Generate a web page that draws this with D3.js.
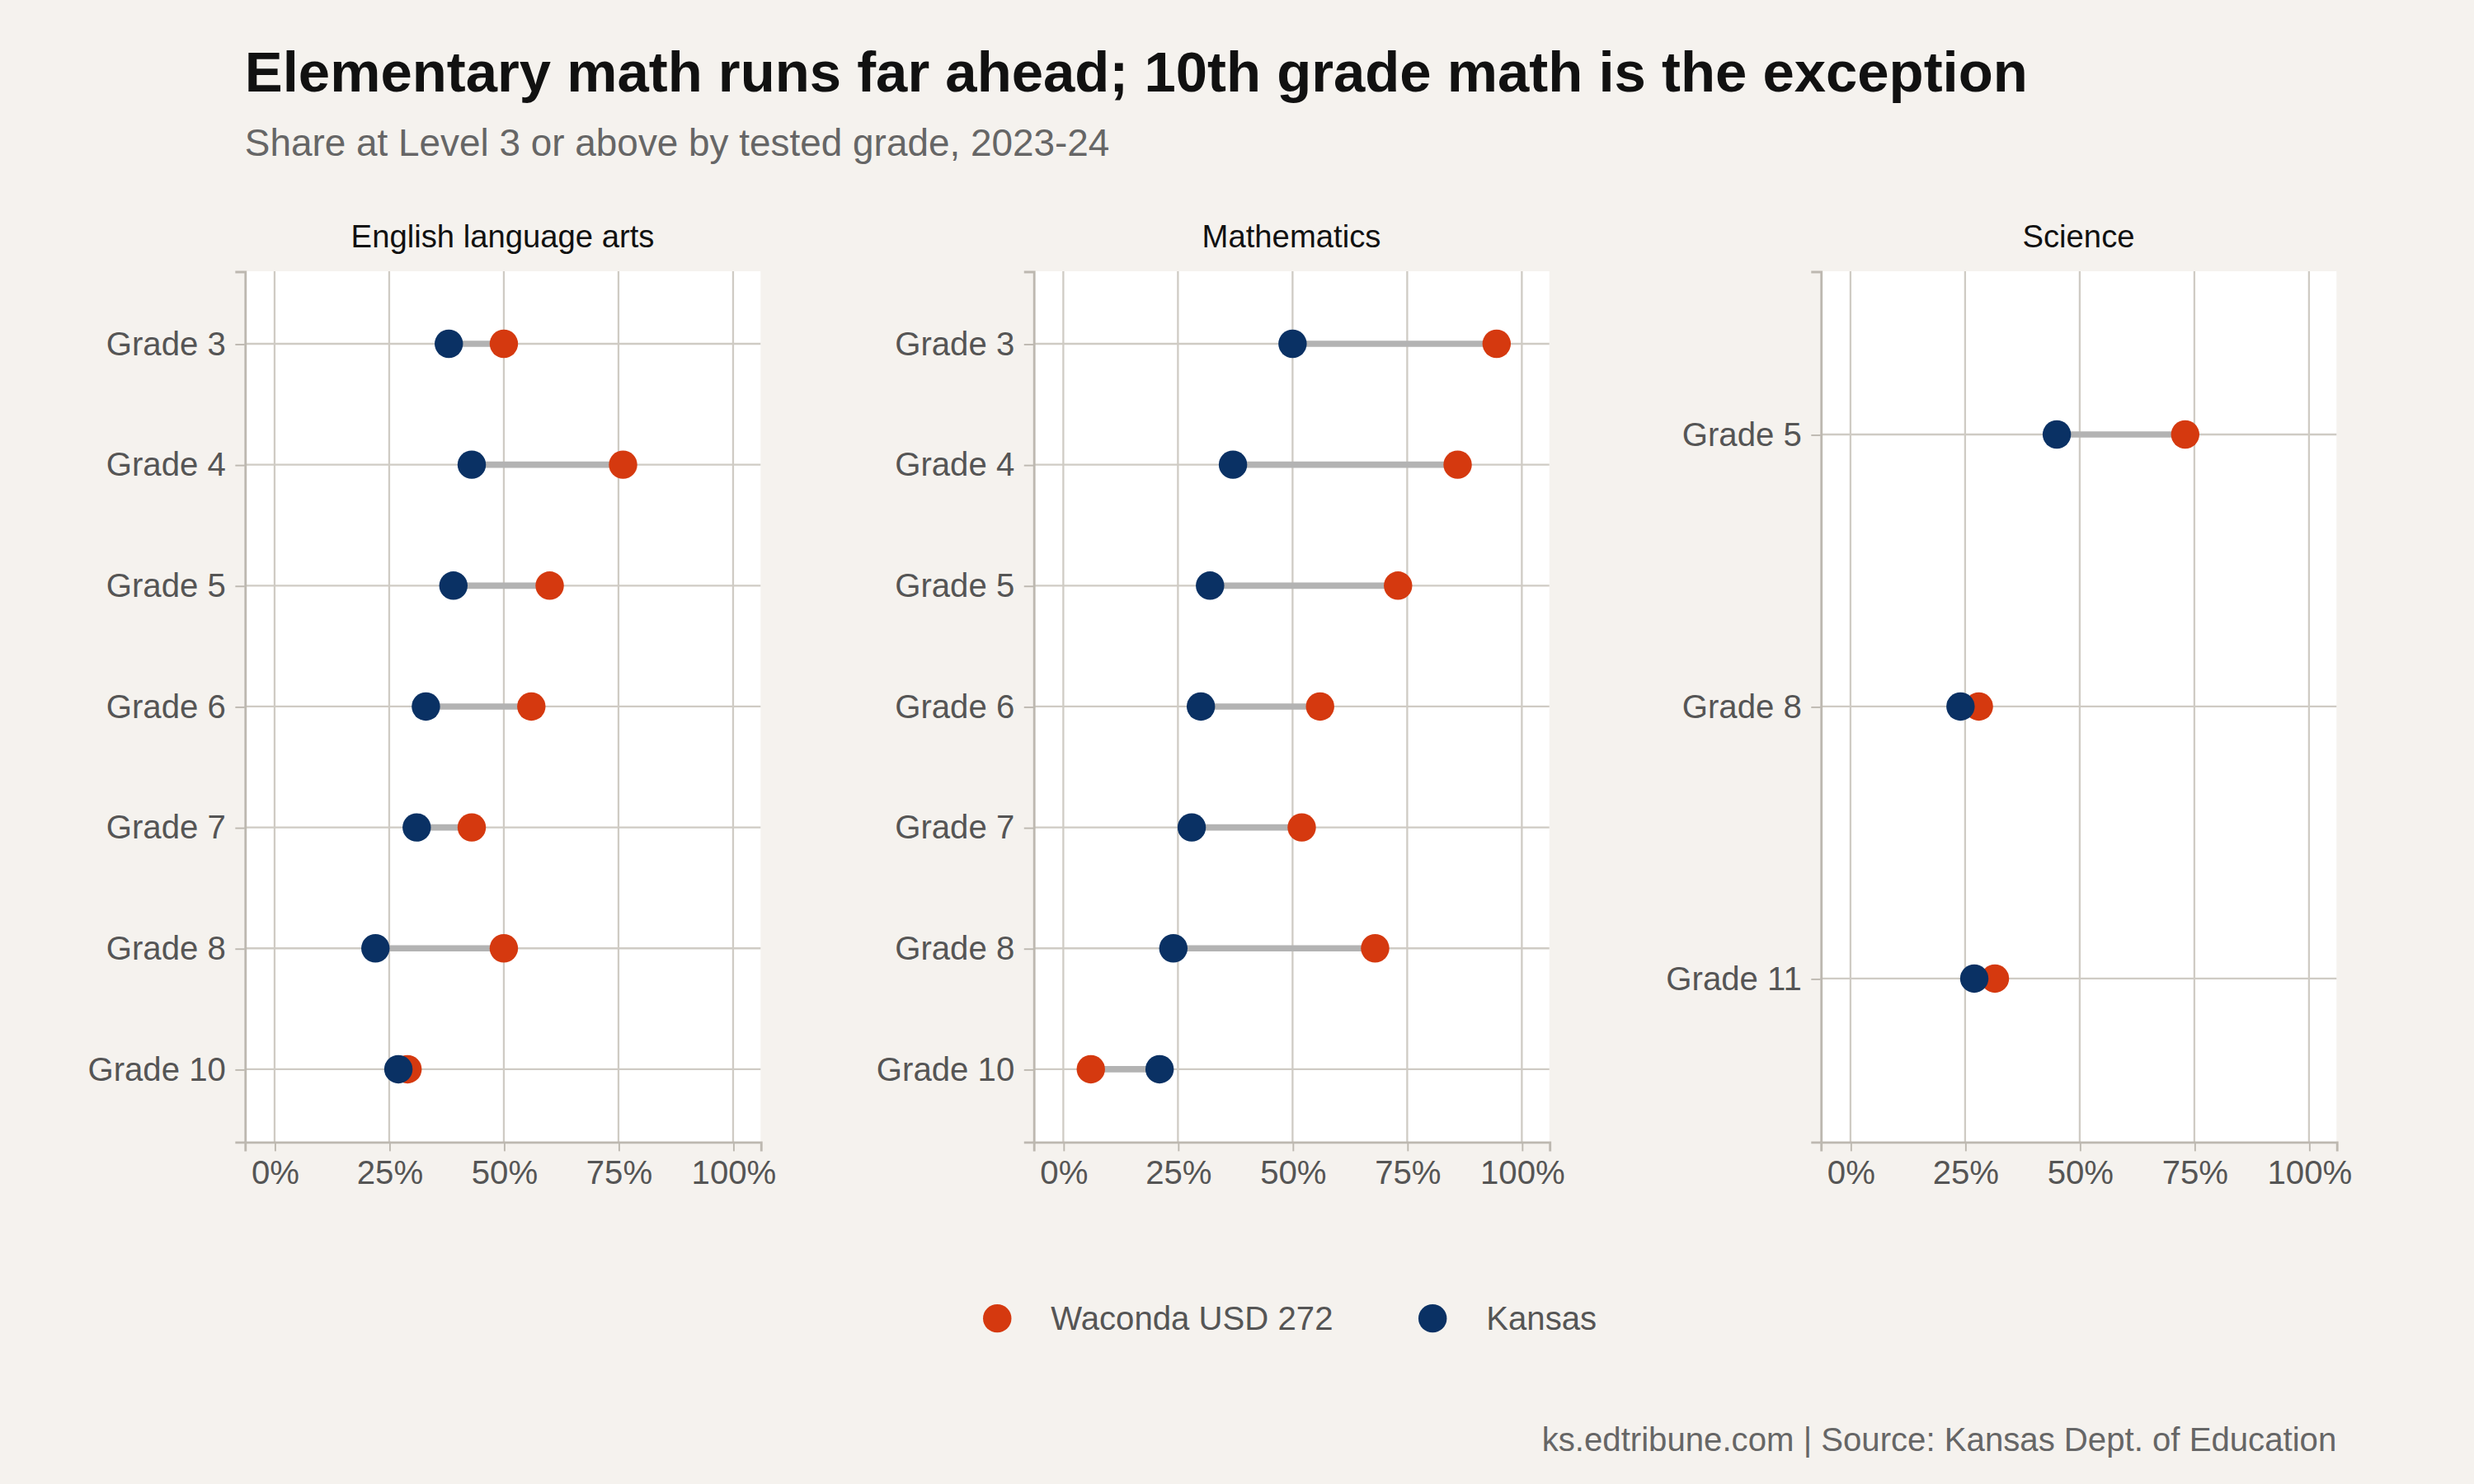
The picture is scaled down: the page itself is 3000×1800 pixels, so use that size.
<!DOCTYPE html>
<html><head><meta charset="utf-8">
<script src="https://cdn.jsdelivr.net/npm/d3@7"></script>
<style>body{margin:0;background:#f5f2ee}text{font-family:"Liberation Sans",Arial,sans-serif}</style>
</head><body><div id="chart"></div>
<script>
// data
const subjects = ['English language arts', 'Mathematics', 'Science'];
const elaGrades = ['Grade 3','Grade 4','Grade 5','Grade 6','Grade 7','Grade 8','Grade 10'];
const elaWaconda = [0.50, 0.76, 0.60, 0.56, 0.43, 0.50, 0.29];
const elaKansas  = [0.38, 0.43, 0.39, 0.33, 0.31, 0.22, 0.27];
const mathGrades = ['Grade 3','Grade 4','Grade 5','Grade 6','Grade 7','Grade 8','Grade 10'];
const mathWaconda = [0.945, 0.86, 0.73, 0.56, 0.52, 0.68, 0.06];
const mathKansas  = [0.50, 0.37, 0.32, 0.30, 0.28, 0.24, 0.21];
const sciGrades = ['Grade 5','Grade 8','Grade 11'];
const sciWaconda = [0.73, 0.28, 0.315];
const sciKansas  = [0.45, 0.24, 0.27];
const xTicks = [0, 0.25, 0.5, 0.75, 1];

const panels = [
  {grades: elaGrades, w: elaWaconda, k: elaKansas},
  {grades: mathGrades, w: mathWaconda, k: mathKansas},
  {grades: sciGrades, w: sciWaconda, k: sciKansas}
];
const orange = '#d5390f', navy = '#0a3164';

const W = 1568, H = 941;
const svg = d3.select('#chart').append('svg')
  .attr('width', 3000).attr('height', 1800)
  .attr('viewBox', [0, 0, W, H]);
svg.append('rect').attr('width', W).attr('height', H).attr('fill', '#f5f2ee');

svg.append('text').attr('x', 155).attr('y', 58).attr('font-size', 36).attr('font-weight', 'bold')
  .attr('fill', '#111').text('Elementary math runs far ahead; 10th grade math is the exception');
svg.append('text').attr('x', 155).attr('y', 99).attr('font-size', 24).attr('fill', '#666')
  .text('Share at Level 3 or above by tested grade, 2023-24');

const panelLeft = [155, 655, 1154], pw = 327, pTop = 172, pBottom = 724;

panels.forEach((p, i) => {
  const g = svg.append('g');
  const x = d3.scaleLinear().domain([-0.065, 1.06]).range([panelLeft[i], panelLeft[i] + pw]);
  const y = d3.scalePoint().domain(p.grades).range([pTop, pBottom]).padding(0.6);

  g.append('rect').attr('x', panelLeft[i]).attr('y', pTop).attr('width', pw).attr('height', pBottom - pTop).attr('fill', '#fff');
  g.append('text').attr('x', panelLeft[i] + pw / 2).attr('y', 157).attr('text-anchor', 'middle')
    .attr('font-size', 20).attr('fill', '#111').text(subjects[i]);

  // grid
  g.selectAll('.vx').data(xTicks).join('line')
    .attr('x1', d => x(d)).attr('x2', d => x(d)).attr('y1', pTop).attr('y2', pBottom)
    .attr('stroke', '#cfcbc4').attr('stroke-width', 1.2);
  g.selectAll('.hy').data(p.grades).join('line')
    .attr('x1', panelLeft[i]).attr('x2', panelLeft[i] + pw).attr('y1', d => y(d)).attr('y2', d => y(d))
    .attr('stroke', '#cfcbc4').attr('stroke-width', 1.2);

  // axes
  const xa = g.append('g').attr('transform', `translate(0,${pBottom})`)
    .call(d3.axisBottom(x).tickValues(xTicks).tickFormat(d3.format('.0%')).tickSize(6).tickPadding(6));
  const ya = g.append('g').attr('transform', `translate(${panelLeft[i]},0)`)
    .call(d3.axisLeft(y).tickSize(6).tickPadding(6));
  [xa, ya].forEach(a => {
    a.select('.domain').attr('stroke', '#bdb8b0').attr('stroke-width', 1.5);
    a.selectAll('.tick line').attr('stroke', '#bdb8b0');
    a.selectAll('.tick text').attr('font-size', 21).attr('fill', '#555')
      .attr('font-family', '"Liberation Sans",Arial,sans-serif');
  });

  // dumbbells
  g.selectAll('.seg').data(p.grades).join('line')
    .attr('x1', (d, j) => x(p.k[j])).attr('x2', (d, j) => x(p.w[j]))
    .attr('y1', d => y(d)).attr('y2', d => y(d))
    .attr('stroke', '#b3b3b3').attr('stroke-width', 4);
  g.selectAll('.w').data(p.grades).join('circle')
    .attr('cx', (d, j) => x(p.w[j])).attr('cy', d => y(d)).attr('r', 9).attr('fill', orange);
  g.selectAll('.k').data(p.grades).join('circle')
    .attr('cx', (d, j) => x(p.k[j])).attr('cy', d => y(d)).attr('r', 9).attr('fill', navy);
});

// legend
const leg = svg.append('g');
[['Waconda USD 272', orange, 632], ['Kansas', navy, 908]].forEach(([t, c, lx]) => {
  leg.append('circle').attr('cx', lx).attr('cy', 836).attr('r', 9).attr('fill', c);
  leg.append('text').attr('x', lx + 34).attr('y', 836).attr('dy', '0.35em').attr('font-size', 21)
    .attr('fill', '#555').text(t);
});

svg.append('text').attr('x', 1481).attr('y', 920).attr('text-anchor', 'end').attr('font-size', 21)
  .attr('fill', '#666').text('ks.edtribune.com | Source: Kansas Dept. of Education');
</script></body></html>
